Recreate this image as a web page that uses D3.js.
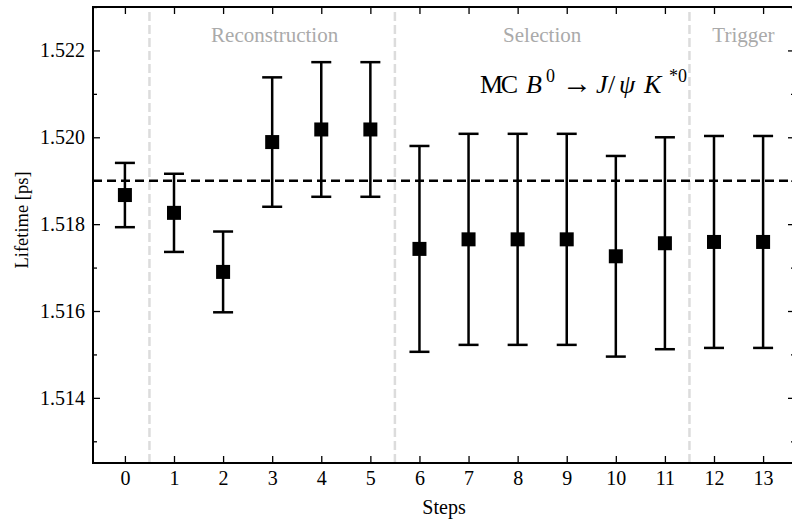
<!DOCTYPE html>
<html>
<head>
<meta charset="utf-8">
<script src="https://cdn.jsdelivr.net/npm/d3@7"></script>
<style>
    body { margin: 0; background: #fff; }
    svg { display: block; font-family: 'Liberation Serif', 'DejaVu Serif', serif; }
</style>
</head>
<body>
<div id="chart"></div>
<script>
var steps = [0, 1, 2, 3, 4, 5, 6, 7, 8, 9, 10, 11, 12, 13];
var lifetimes = [1.51867, 1.51826, 1.51690, 1.51989, 1.52018, 1.52018, 1.51743,
    1.51765, 1.51765, 1.51765, 1.51726, 1.51756, 1.51759, 1.51759];
var errors = [0.00074, 0.00090, 0.00093, 0.00149, 0.00155, 0.00155, 0.00237,
    0.00243, 0.00243, 0.00243, 0.00231, 0.00244, 0.00244, 0.00244];
var referenceLifetime = 1.519;
var separators = [0.5, 5.5, 11.5];
var sections = [
    { name: 'Reconstruction', at: 3.05 },
    { name: 'Selection', at: 8.5 },
    { name: 'Trigger', at: 12.6 }
];
var yTicks = [1.514, 1.516, 1.518, 1.520, 1.522];

var width = 792, height = 523;
var margin = { top: 7, right: -3, bottom: 60, left: 93 };

var svg = d3.select('#chart').append('svg')
    .attr('width', width)
    .attr('height', height);

var x = d3.scaleLinear()
    .domain([-0.65, 13.65])
    .range([margin.left, width - margin.right]);

var y = d3.scaleLinear()
    .domain([1.5125, 1.523])
    .range([height - margin.bottom, margin.top]);

var plot = svg.append('g');

// section separators
plot.selectAll('.separator')
    .data(separators).enter()
    .append('line')
    .attr('class', 'separator')
    .attr('x1', function(d) { return x(d); })
    .attr('x2', function(d) { return x(d); })
    .attr('y1', y.range()[0])
    .attr('y2', y.range()[1])
    .style('stroke', '#dcdcdc')
    .style('stroke-width', 2.5)
    .style('stroke-dasharray', '9,4');

plot.selectAll('.section')
    .data(sections).enter()
    .append('text')
    .attr('class', 'section')
    .attr('x', function(d) { return x(d.at); })
    .attr('y', 42)
    .attr('text-anchor', 'middle')
    .style('fill', '#aaaaaa')
    .style('font-size', '21px')
    .text(function(d) { return d.name; });

// reference lifetime
plot.append('line')
    .attr('x1', x.range()[0])
    .attr('x2', x.range()[1])
    .attr('y1', y(referenceLifetime))
    .attr('y2', y(referenceLifetime))
    .style('stroke', '#000')
    .style('stroke-width', 2.5)
    .style('stroke-dasharray', '9,5');

// error bars
var bars = plot.selectAll('.errorbar')
    .data(steps).enter()
    .append('g')
    .attr('class', 'errorbar')
    .style('stroke', '#000')
    .style('stroke-width', 2.5);

bars.append('line')
    .attr('x1', function(d) { return x(d); })
    .attr('x2', function(d) { return x(d); })
    .attr('y1', function(d, i) { return y(lifetimes[i] - errors[i]); })
    .attr('y2', function(d, i) { return y(lifetimes[i] + errors[i]); });

[-1, 1].forEach(function(sign) {
    bars.append('line')
        .attr('x1', function(d) { return x(d) - 10; })
        .attr('x2', function(d) { return x(d) + 10; })
        .attr('y1', function(d, i) { return y(lifetimes[i] + sign * errors[i]); })
        .attr('y2', function(d, i) { return y(lifetimes[i] + sign * errors[i]); });
});

plot.selectAll('.marker')
    .data(steps).enter()
    .append('rect')
    .attr('class', 'marker')
    .attr('x', function(d) { return x(d) - 7; })
    .attr('y', function(d, i) { return y(lifetimes[i]) - 7; })
    .attr('width', 14)
    .attr('height', 14)
    .style('fill', '#000');

// axes, ticks pointing inwards on all four sides
var minorY = d3.range(1.513, 1.5231, 0.001).filter(function(v) {
    return yTicks.every(function(t) { return Math.abs(t - v) > 1e-6; });
});

function styleAxis(g) {
    g.attr('font-family', null).attr('font-size', null);
    g.select('.domain').remove();
    g.selectAll('.tick line').style('stroke', '#000').style('stroke-width', 1.3);
    g.selectAll('.tick text').style('font-size', '20px').style('fill', '#000');
}

svg.append('g')
    .attr('transform', 'translate(0,' + y.range()[0] + ')')
    .call(d3.axisBottom(x).tickValues(steps).tickFormat(d3.format('d')).tickSizeInner(-7).tickPadding(8))
    .call(styleAxis);

svg.append('g')
    .attr('transform', 'translate(0,' + y.range()[1] + ')')
    .call(d3.axisTop(x).tickValues(steps).tickSizeInner(-7).tickFormat(''))
    .call(styleAxis);

svg.append('g')
    .attr('transform', 'translate(' + x.range()[0] + ',0)')
    .call(d3.axisLeft(y).tickValues(yTicks).tickFormat(d3.format('.3f')).tickSizeInner(-7).tickPadding(8))
    .call(styleAxis);

svg.append('g')
    .attr('transform', 'translate(' + x.range()[0] + ',0)')
    .call(d3.axisLeft(y).tickValues(minorY).tickSizeInner(-4).tickFormat(''))
    .call(styleAxis);

svg.append('g')
    .attr('transform', 'translate(' + x.range()[1] + ',0)')
    .call(d3.axisRight(y).tickValues(yTicks).tickSizeInner(-7).tickFormat(''))
    .call(styleAxis);

svg.append('g')
    .attr('transform', 'translate(' + x.range()[1] + ',0)')
    .call(d3.axisRight(y).tickValues(minorY).tickSizeInner(-4).tickFormat(''))
    .call(styleAxis);

svg.append('rect')
    .attr('x', x.range()[0])
    .attr('y', y.range()[1])
    .attr('width', x.range()[1] - x.range()[0])
    .attr('height', y.range()[0] - y.range()[1])
    .style('fill', 'none')
    .style('stroke', '#000')
    .style('stroke-width', 2);

// axis labels
svg.append('text')
    .attr('x', 444)
    .attr('y', 514)
    .attr('text-anchor', 'middle')
    .style('font-size', '20px')
    .text('Steps');

svg.append('text')
    .attr('transform', 'translate(28,220) rotate(-90)')
    .attr('text-anchor', 'middle')
    .style('font-size', '18.5px')
    .text('Lifetime [ps]');

// decay label, pieces placed by hand to mimic the TeX spacing
var label = svg.append('text')
    .attr('y', 93)
    .style('font-size', '26px');
label.append('tspan').attr('x', 480).attr('textLength', 38).text('MC');
label.append('tspan').attr('x', 526).style('font-style', 'italic').text('B');
label.append('tspan').attr('x', 546).attr('dy', -11).style('font-size', '18px').text('0');
label.append('tspan').attr('x', 562).attr('dy', 11).style('font-size', '30px').text('\u2192');
label.append('tspan').attr('x', 596).style('font-style', 'italic').text('J');
label.append('tspan').attr('x', 608).text('/');
label.append('tspan').attr('x', 619).style('font-style', 'italic').text('\u03c8');
label.append('tspan').attr('x', 644).style('font-style', 'italic').text('K');
label.append('tspan').attr('x', 669).attr('dy', -11).style('font-size', '18px').text('*0');
</script>
</body>
</html>
